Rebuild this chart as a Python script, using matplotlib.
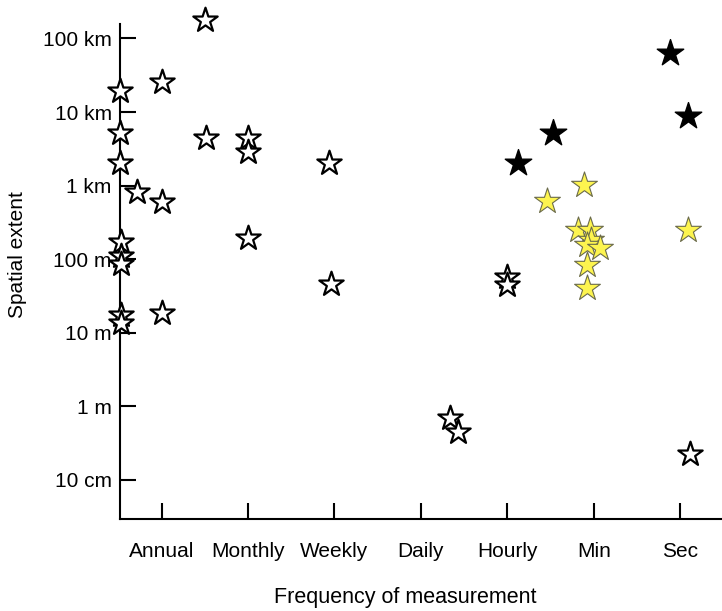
import matplotlib
matplotlib.use("Agg")
import matplotlib.pyplot as plt
import numpy as np

plt.rcParams['font.family'] = ['Liberation Sans', 'DejaVu Sans']

# frequency categories (x positions 1..7)
freq_labels = ["Annual", "Monthly", "Weekly", "Daily", "Hourly", "Min", "Sec"]
freq_pos = [1, 2, 3, 4, 5, 6, 7]

# spatial extent ticks (metres)
extent_ticks = [0.1, 1, 10, 100, 1000, 10000, 100000]
extent_labels = ["10 cm", "1 m", "10 m", "100 m", "1 km", "10 km", "100 km"]

# open (white) stars
open_x = [0.52, 1.0, 0.52, 1.52, 0.52, 0.72, 1.0, 0.53, 0.53, 0.53, 0.53, 0.53, 1.0,
          1.50, 2.0, 2.0, 2.0, 2.94, 2.96, 5.0, 5.0, 4.34, 4.43, 7.11]
open_y = [19000, 25800, 5190, 4480, 2030, 826, 604, 173, 110, 86, 17.5, 13.6, 18.4,
          178000, 4430, 2860, 194, 2030, 46, 57.8, 44.6, 0.695, 0.449, 0.225]

# black stars
black_x = [5.12, 5.53, 6.88, 7.09]
black_y = [2030, 5190, 62700, 8830]

# yellow stars
yellow_x = [5.88, 5.46, 5.82, 5.95, 5.97, 5.92, 6.07, 5.92, 5.92, 7.09]
yellow_y = [1020, 623, 249, 249, 182, 156, 141, 83, 40, 249]

fig = plt.figure(figsize=(7.22, 6.11), dpi=100)
ax = fig.add_axes([120/722, (611-519)/611, (721-120)/722, (519-24)/611])

ax.scatter(black_x, black_y, marker='*', s=400, facecolor='black',
           edgecolor='black', linewidth=1.0, zorder=3, clip_on=False)
ax.scatter(yellow_x, yellow_y, marker='*', s=380, facecolor='#FDF44F',
           edgecolor='#6b6b4a', linewidth=0.8, zorder=3, clip_on=False)
ax.scatter(open_x, open_y, marker='*', s=340, facecolor='white',
           edgecolor='black', linewidth=1.6, zorder=4, clip_on=False)

ax.set_yscale('log')
ax.set_xlim(0.52, 7.47)
ax.set_ylim(0.0295, 1.57e5)

ax.set_xticks(freq_pos)
ax.set_xticklabels(freq_labels)
ax.set_yticks(extent_ticks)
ax.set_yticklabels(extent_labels)
ax.yaxis.set_minor_locator(matplotlib.ticker.NullLocator())

for s in ['top', 'right']:
    ax.spines[s].set_visible(False)
for s in ['left', 'bottom']:
    ax.spines[s].set_linewidth(1.5)

ax.tick_params(axis='both', direction='in', length=11.5, width=1.5, labelsize=15)
ax.tick_params(axis='x', pad=16.5)
ax.tick_params(axis='y', pad=6)

ax.set_xlabel("Frequency of measurement", fontsize=15.5)
ax.set_ylabel("Spatial extent", fontsize=15)
ax.xaxis.set_label_coords(0.474, -0.137)
ax.yaxis.set_label_coords(-0.155, 0.535)

plt.savefig("out.png", dpi=100)
